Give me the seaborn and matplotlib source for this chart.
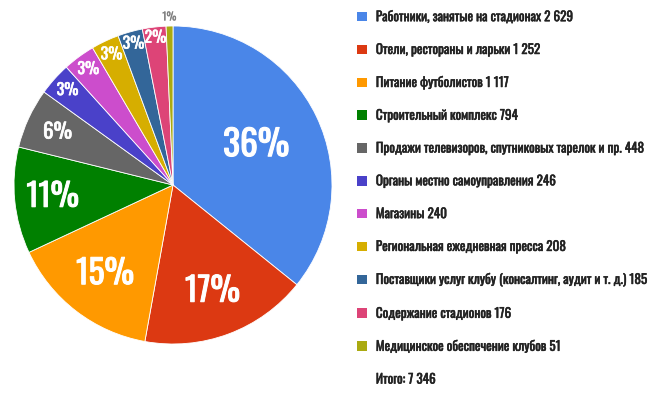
import matplotlib
matplotlib.use("Agg")
import matplotlib.pyplot as plt
import matplotlib.patches as mpatches
import matplotlib.patheffects as pe
import numpy as np
import seaborn as sns

categories = [
    "Работники, занятые на стадионах",
    "Отели, рестораны и ларьки",
    "Питание футболистов",
    "Строительный комплекс",
    "Продажи телевизоров, спутниковых тарелок и пр.",
    "Органы местно самоуправления",
    "Магазины",
    "Региональная ежедневная пресса",
    "Поставщики услуг клубу (консалтинг, аудит и т. д.)",
    "Содержание стадионов",
    "Медицинское обеспечение клубов",
]
values = [2629, 1252, 1117, 794, 448, 246, 240, 208, 185, 176, 51]
total_label = "Итого: 7 346"
colors = ["#4a86e8", "#dc3912", "#ff9900", "#008000", "#666666",
          "#4a41c9", "#cc4dcc", "#d6ae00", "#336699", "#dd4477", "#aaaa11"]

# label styling per slice (distance as fraction of radius, font size, color)
label_dist = [0.58, 0.71, 0.70, 0.76, 0.80, 0.89, 0.90, 0.905, 0.92, 0.93, 1.06]
label_size = [25.5, 24, 24, 23, 15, 11.5, 11.5, 11.5, 11.5, 11.5, 8]
label_stroke = [0.8, 0.7, 0.7, 0.7, 0.5, 0.4, 0.4, 0.4, 0.4, 0.4, 0.1]
label_color = ["white"] * 10 + ["#808080"]

sns.set_theme(style="white")
FONT = ["Oswald", "DejaVu Sans"]
plt.rcParams["font.family"] = FONT

fig = plt.figure(figsize=(6.68, 3.95), dpi=100)
ax = fig.add_axes([14 / 668, (395 - 185 - 159) / 395, 318 / 668, 318 / 395])

total = sum(values)
wedges, _ = ax.pie(values, colors=colors, startangle=90, counterclock=False,
                   radius=1.0, wedgeprops=dict(linewidth=0.6, edgecolor="white"))
for w, v, d, s, sw, c in zip(wedges, values, label_dist, label_size, label_stroke, label_color):
    ang = np.deg2rad((w.theta1 + w.theta2) / 2)
    pct = f"{round(100 * v / total):d}%"
    ax.text(d * np.cos(ang), d * np.sin(ang), pct, ha="center", va="center",
            fontsize=s, color=c, family=FONT,
            path_effects=[pe.withStroke(linewidth=sw, foreground=c)])
ax.set_xlim(-1, 1)
ax.set_ylim(-1, 1)
ax.set_aspect("equal")
ax.axis("off")

def fmt(n):
    return f"{n:,}".replace(",", " ")

labels = [f"{c} {fmt(v)}" for c, v in zip(categories, values)] + [total_label]
handles = [mpatches.Patch(facecolor=c, edgecolor="none") for c in colors]
handles.append(mpatches.Patch(facecolor="none", edgecolor="none"))
leg = fig.legend(handles, labels, loc="upper left",
                 bbox_to_anchor=(357 / 668, 1 - 10 / 395),
                 frameon=False, handlelength=0.75, handleheight=0.75,
                 handletextpad=0.68, labelspacing=1.5, borderaxespad=0, borderpad=0,
                 prop={"family": FONT, "size": 9.5})
for t in leg.get_texts():
    t.set_color("#222222")
    t.set_path_effects([pe.withStroke(linewidth=0.35, foreground="#222222")])

fig.savefig("out.png", dpi=100, facecolor="white")
